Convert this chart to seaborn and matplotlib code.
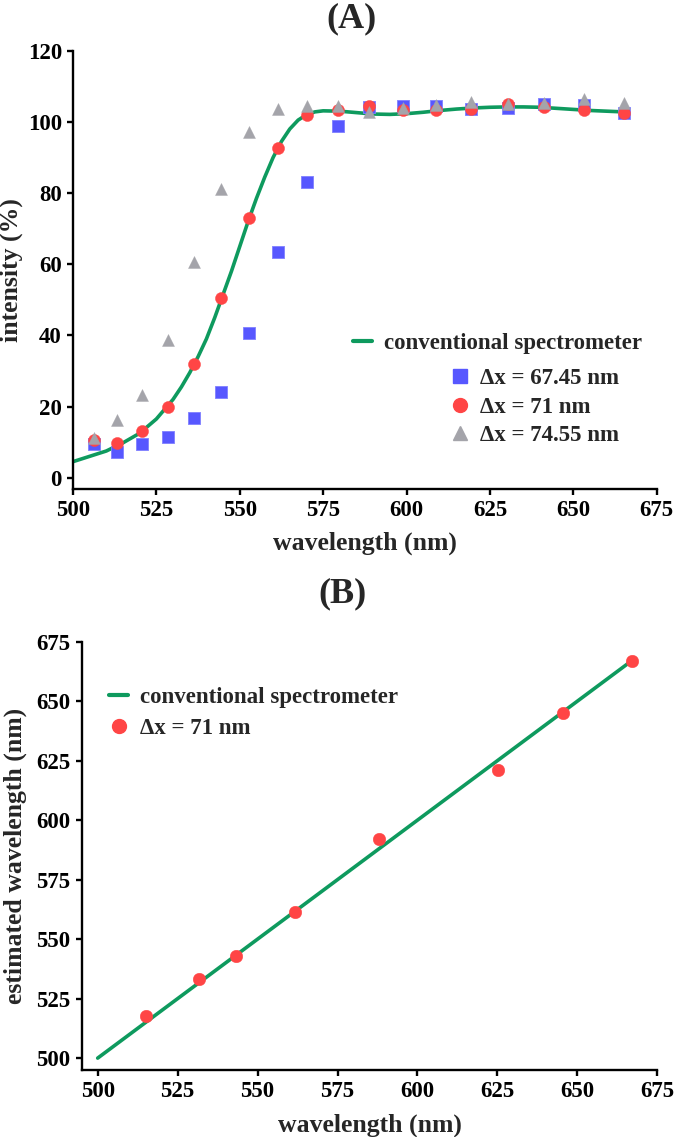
import pandas as pd
import matplotlib.pyplot as plt
import seaborn as sns
from matplotlib.lines import Line2D

# panel A: conventional spectrometer curve
conv_wl = [500, 505, 510, 515, 520, 525, 530, 532.5, 535, 537.5, 540, 542.5, 545, 547.5,
           550, 552.5, 555, 557.5, 560, 562.5, 565, 567.5, 570, 572.5, 575, 580, 585,
           590, 595, 600, 605, 610, 615, 620, 625, 630, 635, 640, 645, 650, 655, 660, 665]
conv_int = [4.5, 6.0, 7.5, 9.8, 12.5, 16.5, 22.0, 25.5, 29.5, 34.0, 39.0, 45.0, 51.5, 58.0,
            65.0, 72.0, 78.5, 84.5, 90.0, 94.5, 98.0, 100.5, 102.0, 102.8, 103.1, 103.0, 102.6,
            102.2, 102.1, 102.3, 102.7, 103.2, 103.6, 103.9, 104.1, 104.2, 104.2, 104.1, 103.8,
            103.5, 103.2, 103.0, 102.8]

# panel A: reconstructed points
pts_wl = [506.2, 513.3, 520.8, 528.4, 536.3, 544.4, 552.7, 561.5, 570.3, 579.5,
          588.8, 598.8, 608.8, 619.4, 630.4, 641.3, 653.2, 665.2]
int_6745 = [9.5, 7.1, 9.4, 11.3, 16.9, 24.1, 40.8, 63.4, 83.1, 98.7,
            104.2, 104.4, 104.4, 103.7, 103.9, 105.1, 104.8, 102.4]
int_71 = [10.6, 9.7, 13.1, 20.0, 32.0, 50.6, 73.1, 92.7, 102.0, 103.2,
          104.4, 103.4, 103.4, 103.6, 105.1, 104.2, 103.2, 102.5]
int_7455 = [11.1, 16.2, 23.1, 38.7, 60.7, 81.2, 97.2, 103.6, 104.4, 104.4,
            102.9, 103.9, 104.6, 105.6, 105.0, 105.3, 106.4, 105.3]

# panel B
line_wl = [500, 667]
line_est = [500, 667]
b_wl = [515.2, 531.7, 543.2, 561.6, 588.1, 625.1, 645.4, 667.0]
b_est = [517.9, 533.2, 543.0, 561.6, 591.9, 621.2, 645.1, 666.8]

GREEN = "#0E9A5E"
BLUE = "#5757FF"
RED = "#FF4545"
GREY = "#A4A4AA"

sns.set_style("ticks")
plt.rcParams['font.family'] = ['Liberation Serif', 'DejaVu Serif']
plt.rcParams['font.weight'] = 'bold'
plt.rcParams['axes.labelweight'] = 'bold'
plt.rcParams['axes.linewidth'] = 1.7
plt.rcParams['xtick.major.width'] = 1.7
plt.rcParams['ytick.major.width'] = 1.7
plt.rcParams['xtick.major.size'] = 4.5
plt.rcParams['ytick.major.size'] = 4.5
plt.rcParams['xtick.labelsize'] = 16.5
plt.rcParams['ytick.labelsize'] = 16.5
plt.rcParams['axes.labelsize'] = 18.5
plt.rcParams['axes.edgecolor'] = 'black'
plt.rcParams['xtick.color'] = 'black'
plt.rcParams['ytick.color'] = 'black'

W, H = 675, 1137
fig = plt.figure(figsize=(W / 100, H / 100), dpi=100)

def frame(l, r, t, b):
    return [l / W, 1 - b / H, (r - l) / W, (b - t) / H]

# ---------------- panel A ----------------
axA = fig.add_axes(frame(73, 656.7, 50.7, 488.7))
df_conv = pd.DataFrame({"wl": conv_wl, "int": conv_int})
sns.lineplot(data=df_conv, x="wl", y="int", color=GREEN, lw=2.6, ax=axA)
ms = 64
sns.scatterplot(x=pts_wl, y=int_6745, marker="s", color=BLUE, s=ms, edgecolor="#8080FF",
                linewidth=0.6, ax=axA, zorder=3)
sns.scatterplot(x=pts_wl, y=int_71, marker="o", color=RED, s=ms + 12, edgecolor=RED,
                linewidth=0.3, ax=axA, zorder=4)
sns.scatterplot(x=pts_wl, y=int_7455, marker="^", color=GREY, s=ms + 10, edgecolor=GREY,
                linewidth=0.3, ax=axA, zorder=5)
axA.set_xlim(500, 675)
axA.set_ylim(-3.1, 120)
axA.set_xticks(range(500, 676, 25))
axA.set_yticks(range(0, 121, 20))
axA.set_xlabel("wavelength (nm)", labelpad=8)
axA.set_ylabel("intensity (%)", labelpad=3)
sns.despine(ax=axA)

legA1 = axA.legend(handles=[Line2D([], [], color=GREEN, lw=3)],
                   labels=["conventional spectrometer"],
                   loc="center left", bbox_to_anchor=(353 / W, 1 - 343.3 / H),
                   bbox_transform=fig.transFigure, frameon=False, fontsize=16.5,
                   handlelength=0.85, handletextpad=0.5, borderpad=0, borderaxespad=0)
axA.add_artist(legA1)
mk = dict(ls="none", markersize=10)
axA.legend(handles=[Line2D([], [], marker="s", color=BLUE, **mk),
                    Line2D([], [], marker="o", color=RED, **mk),
                    Line2D([], [], marker="^", color=GREY, **mk)],
           labels=["\u0394x = 67.45 nm", "\u0394x = 71 nm", "\u0394x = 74.55 nm"],
           loc="center left", bbox_to_anchor=(450.5 / W, 1 - 407 / H),
           bbox_transform=fig.transFigure, frameon=False, fontsize=16.5,
           handlelength=0.85, handletextpad=0.45, labelspacing=0.32,
           borderpad=0, borderaxespad=0)

fig.text(352 / W, 1 - 19 / H, "(A)", ha="center", va="center", fontsize=26, fontweight="bold")

# ---------------- panel B ----------------
axB = fig.add_axes(frame(81.7, 657.3, 641.7, 1070))
df_line = pd.DataFrame({"wl": line_wl, "est": line_est})
sns.lineplot(data=df_line, x="wl", y="est", color=GREEN, lw=2.6, ax=axB)
sns.scatterplot(x=b_wl, y=b_est, marker="o", color=RED, s=ms + 18, edgecolor=RED,
                linewidth=0.3, ax=axB, zorder=4)
axB.set_xlim(495, 675)
axB.set_ylim(495, 675)
axB.set_xticks(range(500, 676, 25))
axB.set_yticks(range(500, 676, 25))
axB.set_xlabel("wavelength (nm)", labelpad=8)
axB.set_ylabel("estimated wavelength (nm)", labelpad=7)
sns.despine(ax=axB)
axB.legend(handles=[Line2D([], [], color=GREEN, lw=3),
                    Line2D([], [], marker="o", color=RED, **mk)],
           labels=["conventional spectrometer", "\u0394x = 71 nm"],
           loc="center left", bbox_to_anchor=(109 / W, 1 - 713 / H),
           bbox_transform=fig.transFigure, frameon=False, fontsize=16.5,
           handlelength=0.85, handletextpad=0.5, labelspacing=0.45,
           borderpad=0, borderaxespad=0)

fig.text(343 / W, 1 - 594 / H, "(B)", ha="center", va="center", fontsize=26, fontweight="bold")

fig.savefig("out.png", dpi=100)
